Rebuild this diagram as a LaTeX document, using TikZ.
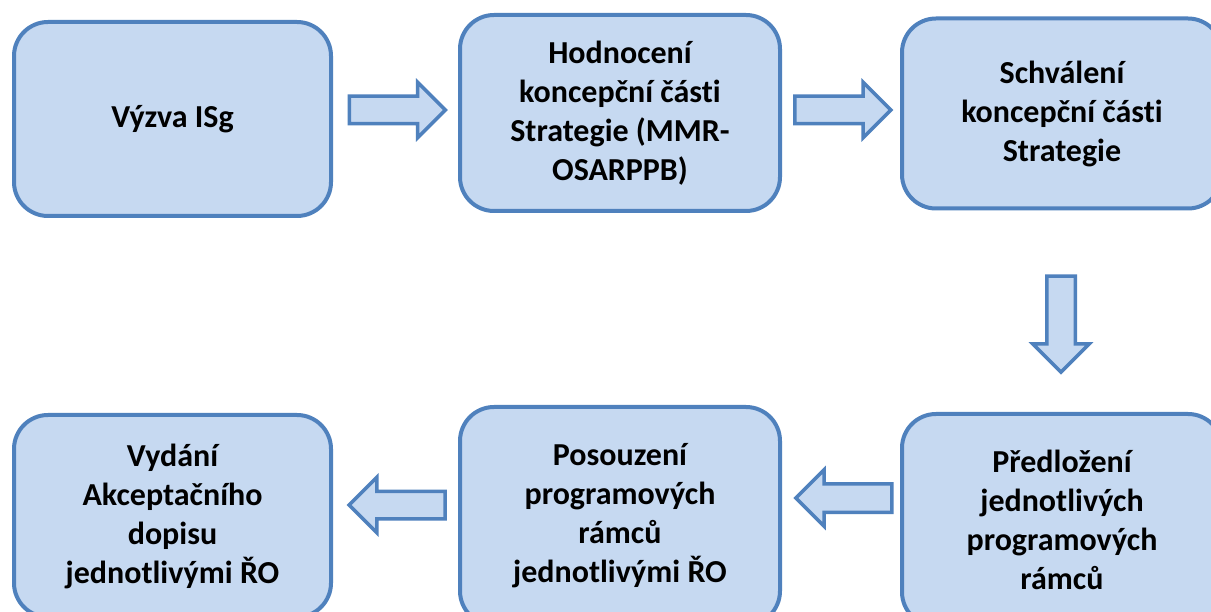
\documentclass[tikz,border=0pt]{standalone}
\usepackage{fontspec}
\setmainfont[Ligatures=CommonOff]{Carlito}
\usetikzlibrary{shapes.arrows}
\definecolor{boxfill}{HTML}{C6D9F1}
\definecolor{boxline}{HTML}{4F81BD}
\tikzset{
  stepbox/.style={draw=boxline, fill=boxfill, line width=4pt, rounded corners=34pt,
    align=center, inner sep=0pt, font=\fontsize{32}{39}\selectfont\bfseries},
  blockarrow/.style={single arrow, draw=boxline, fill=boxfill, line width=3.5pt,
    minimum height=96pt, inner xsep=0pt, inner ysep=12pt, single arrow head extend=14pt,
    single arrow tip angle=90}
}
\begin{document}
\begin{tikzpicture}[x=1pt,y=-1pt]
\useasboundingbox (0,0) rectangle (1211,612);
\clip (0,0) rectangle (1211,612);
\fill[white] (0,0) rectangle (1211,612);
\node[stepbox, minimum width=317pt, minimum height=194pt] (b1) at (172.5,119) {Výzva ISg};
\node[stepbox, minimum width=320pt, minimum height=196pt] (b2) at (620,113) {Hodnocení\\koncepční části\\Strategie (MMR-\\OSARPPB)};
\node[stepbox, minimum width=320pt, minimum height=190pt] (b3) at (1062,113.5) {Schválení\\koncepční části\\Strategie};
\node[stepbox, minimum width=317pt, minimum height=202pt] (b4) at (172.5,516) {Vydání\\Akceptačního\\dopisu\\jednotlivými ŘO};
\node[stepbox, minimum width=320pt, minimum height=218pt] (b5) at (620,516) {Posouzení\\programových\\rámců\\jednotlivými ŘO};
\node[stepbox, minimum width=320pt, minimum height=212pt] (b6) at (1062,520) {Předložení\\jednotlivých\\programových\\rámců};
\node[blockarrow] (a1) at (390.5,110) {};
\node[blockarrow] (a2) at (836,110) {};
\node[blockarrow, rotate=-90, inner ysep=12.5pt] (a3) at (1061,317) {};
\node[blockarrow, rotate=180, inner ysep=12.5pt] (a4) at (851,498) {};
\node[blockarrow, rotate=180] (a5) at (404,505) {};
\end{tikzpicture}
\end{document}
